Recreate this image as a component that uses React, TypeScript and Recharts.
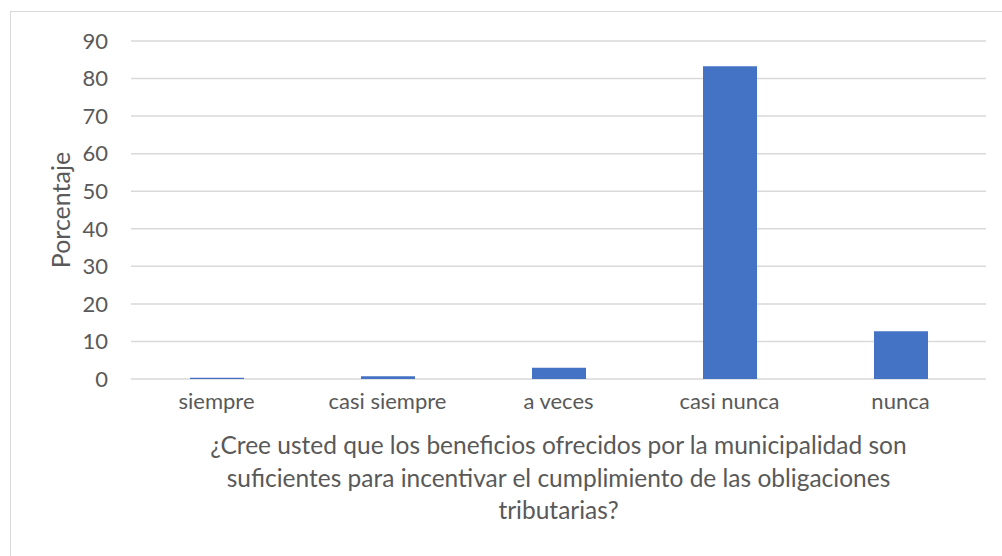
import React from "react";
import { BarChart, Bar, XAxis, YAxis, CartesianGrid, Label } from "recharts";

const categories = ["siempre", "casi siempre", "a veces", "casi nunca", "nunca"];
const values = [0.3, 0.7, 3.0, 83.3, 12.7];
const yTicks = [0, 10, 20, 30, 40, 50, 60, 70, 80, 90];
const yTitle = "Porcentaje";
const xTitleLines = [
  "¿Cree usted que los beneficios ofrecidos por la municipalidad son",
  "suficientes para incentivar el cumplimiento de las obligaciones",
  "tributarias?",
];

const data = categories.map((c, i) => ({ name: c, value: values[i] }));

const FONT = "Lato, 'Open Sans', sans-serif";
const TEXT = "#595959";

const XTick = (props: any) => {
  const { x, y, payload } = props;
  return (
    <text x={x} y={y} dy={22} textAnchor="middle" fill={TEXT} fontFamily={FONT} fontSize={22}>
      {payload.value}
    </text>
  );
};

const XTitle = (props: any) => {
  const vb = props.viewBox;
  const cx = vb.x + vb.width / 2;
  return (
    <text x={cx} y={vb.y} textAnchor="middle" fill={TEXT} fontFamily={FONT} fontSize={24.5}>
      {xTitleLines.map((l, i) => (
        <tspan key={i} x={cx} y={vb.y + 75 + i * 32.5}>
          {l}
        </tspan>
      ))}
    </text>
  );
};

const YTitle = (props: any) => {
  const vb = props.viewBox;
  const cy = vb.y + vb.height / 2;
  const cx = 70;
  return (
    <text
      x={cx}
      y={cy}
      textAnchor="middle"
      fill={TEXT}
      fontFamily={FONT}
      fontSize={25}
      transform={`rotate(-90, ${cx}, ${cy})`}
    >
      {yTitle}
    </text>
  );
};

export default function App() {
  return (
    <div
      style={{
        position: "absolute",
        left: 0,
        top: 0,
        width: 1002,
        height: 556,
        overflow: "hidden",
        background: "#ffffff",
      }}
    >
      <div
        style={{
          position: "absolute",
          left: 10,
          top: 11,
          width: 1100,
          height: 700,
          border: "1px solid #d9d9d9",
          boxSizing: "border-box",
        }}
      />
      <div style={{ position: "absolute", left: 0, top: 0 }}>
        <BarChart
          width={1002}
          height={556}
          data={data}
          margin={{ top: 41, right: 16, bottom: 0, left: 0 }}
        >
          <CartesianGrid vertical={false} stroke="#d9d9d9" strokeWidth={1.5} />
          <XAxis
            dataKey="name"
            axisLine={false}
            tickLine={false}
            height={177}
            tick={<XTick />}
            interval={0}
          >
            <Label content={<XTitle />} />
          </XAxis>
          <YAxis
            width={131}
            domain={[0, 90]}
            ticks={yTicks}
            axisLine={false}
            tickLine={false}
            tickMargin={17}
            tick={{ fill: TEXT, fontFamily: FONT, fontSize: 22 }}
          >
            <Label content={<YTitle />} />
          </YAxis>
          <Bar dataKey="value" fill="#4472C4" barSize={54} isAnimationActive={false} />
        </BarChart>
      </div>
    </div>
  );
}
